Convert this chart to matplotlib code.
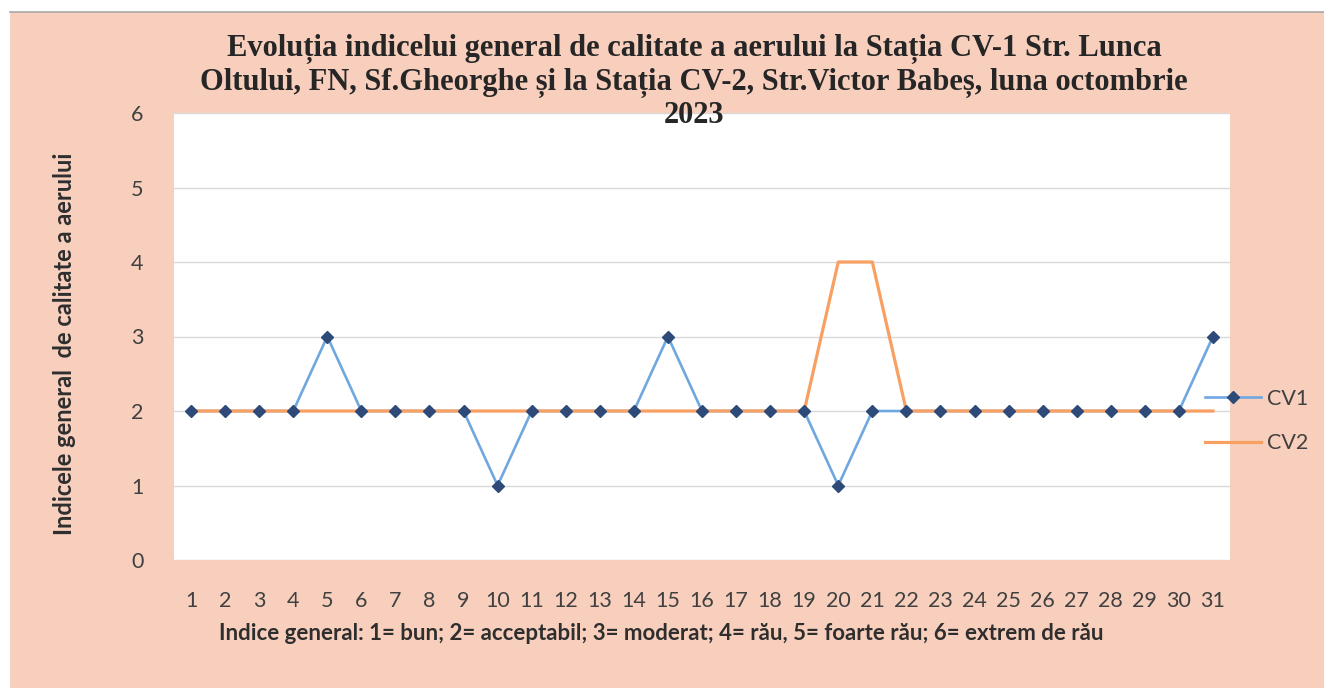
import numpy as np
import matplotlib
matplotlib.use('Agg')
import matplotlib.pyplot as plt
from matplotlib.patches import Rectangle
from matplotlib.lines import Line2D

fundal_color = '#F8CFBD'
cv1_color = '#6FA8E0'
cv1_marker = '#2E4A78'
cv2_color = '#F7A062'

zile = list(range(1, 32))
cv1 = [2, 2, 2, 2, 3, 2, 2, 2, 2, 1, 2, 2, 2, 2, 3, 2, 2, 2, 2, 1, 2, 2, 2, 2, 2, 2, 2, 2, 2, 2, 3]
cv2 = [2, 2, 2, 2, 2, 2, 2, 2, 2, 2, 2, 2, 2, 2, 2, 2, 2, 2, 2, 4, 4, 2, 2, 2, 2, 2, 2, 2, 2, 2, 2]
y_ticks = [0, 1, 2, 3, 4, 5, 6]

W, H = 1324, 688
fig = plt.figure(figsize=(W / 100, H / 100), dpi=100, facecolor='white')

# fundalul roz al graficului (scanat)
fig.patches.append(Rectangle((10 / W, 0), 1 - 10 / W, 1 - 12 / H, transform=fig.transFigure,
                             facecolor=fundal_color, edgecolor='none', zorder=-10))
fig.lines.append(Line2D([10 / W, 1], [1 - 12 / H, 1 - 12 / H], transform=fig.transFigure,
                        color='#A8A8A8', lw=1.2, zorder=-9))

ax = fig.add_axes([174 / W, 1 - 560 / H, (1230 - 174) / W, (560 - 113) / H])
ax.set_facecolor('white')

ax.plot(zile, cv1, color=cv1_color, lw=1.9, zorder=2)
ax.plot(zile, cv2, color=cv2_color, lw=2.3, zorder=3)
ax.plot(zile, cv1, ls='none', marker='D', ms=6.5, color=cv1_marker, zorder=4)

ax.set_xlim(0.5, 31.5)
ax.set_ylim(0, 6)
ax.set_xticks(zile)
ax.set_yticks(y_ticks)
ax.grid(axis='y', color='#D9D9D9', lw=1)
ax.set_axisbelow(True)
for s in ax.spines.values():
    s.set_visible(False)
ax.tick_params(length=0, labelsize=15.5, labelcolor='#404040')
ax.tick_params(axis='x', pad=22)
ax.tick_params(axis='y', pad=22)
for lbl in ax.get_xticklabels() + ax.get_yticklabels():
    lbl.set_fontfamily('Lato')

h1 = Line2D([], [], color=cv1_color, lw=1.9, marker='D', ms=6.5, mfc=cv1_marker, mec=cv1_marker)
h2 = Line2D([], [], color=cv2_color, lw=2.3)
fig.legend([h1, h2], ['CV1', 'CV2'], loc='center left', bbox_to_anchor=(1186 / W, 1 - 421 / H),
           frameon=False, prop={'family': 'Lato', 'size': 15.5}, labelcolor='#404040',
           handlelength=2.6, handletextpad=0.25, labelspacing=1.15)

titlu = ('Evoluția indicelui general de calitate a aerului la Stația CV-1 Str. Lunca\n'
         'Oltului, FN, Sf.Gheorghe și la Stația CV-2, Str.Victor Babeș, luna octombrie\n'
         '2023')
fig.text(694 / W, 1 - 82 / H, titlu, ha='center', va='center', fontsize=22, fontweight='bold',
         family='Liberation Serif', color='#262626', linespacing=1.16, zorder=5)

fig.text(65 / W, 1 - 344 / H, 'Indicele general  de calitate a aerului', rotation=90,
         ha='center', va='center', fontsize=17, fontweight='bold', family='Lato', color='#2E2E2E')
fig.text(661 / W, 1 - 634 / H,
         'Indice general: 1= bun; 2= acceptabil; 3= moderat; 4= rău, 5= foarte rău; 6= extrem de rău',
         ha='center', va='center', fontsize=16, fontweight='bold', family='Lato', color='#2E2E2E')

fig.savefig('out.png', dpi=100, facecolor=fig.get_facecolor())
